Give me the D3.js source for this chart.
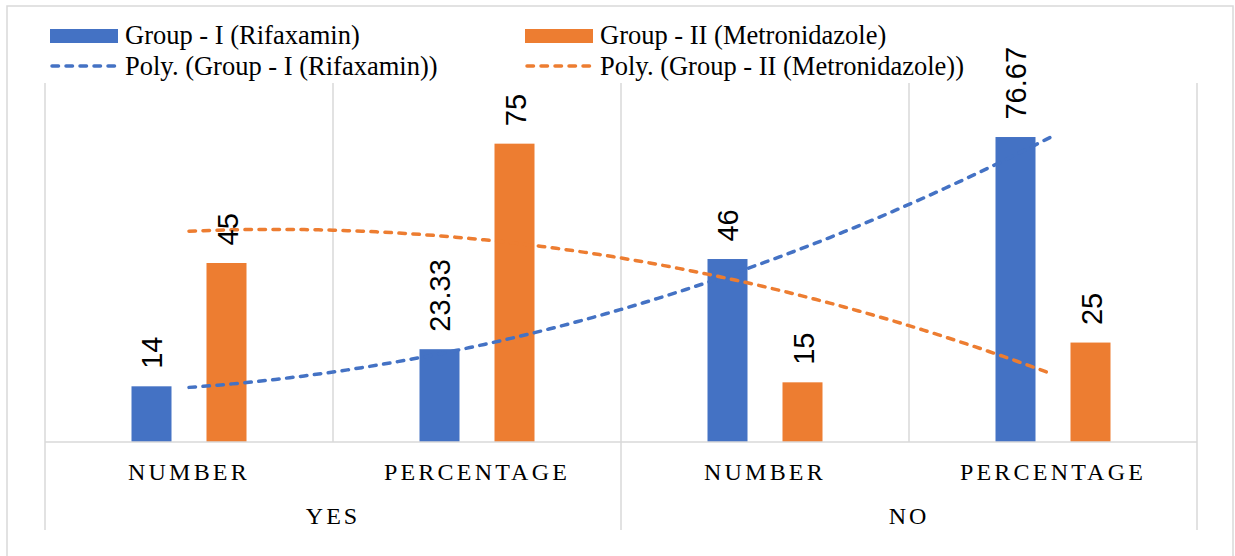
<!DOCTYPE html>
<html>
<head>
<meta charset="utf-8">
<script src="https://cdn.jsdelivr.net/npm/d3@7"></script>
<style>
  html, body { margin: 0; padding: 0; background: #ffffff; }
  svg { display: block; }
</style>
</head>
<body>
<svg id="chart" width="1235" height="556"></svg>
<script>
// Sub-categories along the axis and the outer grouping
const categories = ["NUMBER", "PERCENTAGE", "NUMBER", "PERCENTAGE"];
const groupLabels = ["YES", "NO"];

// Series values
const seriesNames = ["Group - I (Rifaxamin)", "Group - II (Metronidazole)"];
const rifaxamin = [14, 23.33, 46, 76.67];
const metronidazole = [45, 75, 15, 25];

const colors = ["#4472C4", "#ED7D31"];
const serifFont = "'Liberation Serif', 'Times New Roman', serif";
const labelFont = "'Liberation Sans Narrow', 'Arial Narrow', 'Liberation Sans', sans-serif";

const svg = d3.select("#chart");
const plot = { left: 45, right: 1197, top: 84, bottom: 442 };
const gridColor = "#d9d9d9";

// Chart frame
svg.append("rect")
  .attr("x", 7).attr("y", 6)
  .attr("width", 1226).attr("height", 580)
  .attr("fill", "none").attr("stroke", gridColor).attr("stroke-width", 1.5);

const idx = d3.range(categories.length);
const x = d3.scaleBand().domain(idx).range([plot.left, plot.right]).padding(0);
const bw = x.bandwidth();
const xSub = d3.scaleBand().domain([0, 1]).range([0, bw])
  .paddingInner(0.4667).paddingOuter(1.1533);
const y = d3.scaleLinear().domain([0, 90]).range([plot.bottom, plot.top]);

// Vertical gridlines at category boundaries
const bounds = idx.map(i => x(i)).concat([plot.right]);
svg.append("g").selectAll("line").data(bounds).join("line")
  .attr("x1", d => d).attr("x2", d => d)
  .attr("y1", plot.top - 1).attr("y2", plot.bottom)
  .attr("stroke", gridColor).attr("stroke-width", 1.5);

// Group separators extending below the axis
const groupBounds = [plot.left, (plot.left + plot.right) / 2, plot.right];
svg.append("g").selectAll("line").data(groupBounds).join("line")
  .attr("x1", d => d).attr("x2", d => d)
  .attr("y1", plot.bottom).attr("y2", 530)
  .attr("stroke", gridColor).attr("stroke-width", 1.5);

// Bars
const series = [rifaxamin, metronidazole];
series.forEach((vals, s) => {
  svg.append("g").selectAll("rect").data(vals).join("rect")
    .attr("x", (d, i) => x(i) + xSub(s))
    .attr("y", d => y(d))
    .attr("width", xSub.bandwidth())
    .attr("height", d => y(0) - y(d))
    .attr("fill", colors[s]);
});

// Axis baseline
svg.append("line")
  .attr("x1", plot.left).attr("x2", plot.right)
  .attr("y1", plot.bottom).attr("y2", plot.bottom)
  .attr("stroke", gridColor).attr("stroke-width", 1.5);

// Second-order polynomial trendlines (least squares)
function polyFit2(vals) {
  const xs = vals.map((_, i) => i + 1);
  const S = k => d3.sum(xs, v => Math.pow(v, k));
  const T = k => d3.sum(xs, (v, i) => Math.pow(v, k) * vals[i]);
  const A = [[S(0), S(1), S(2)], [S(1), S(2), S(3)], [S(2), S(3), S(4)]];
  const b = [T(0), T(1), T(2)];
  // Gaussian elimination
  for (let c = 0; c < 3; c++) {
    for (let r = c + 1; r < 3; r++) {
      const f = A[r][c] / A[c][c];
      for (let k = c; k < 3; k++) A[r][k] -= f * A[c][k];
      b[r] -= f * b[c];
    }
  }
  const coef = [0, 0, 0];
  for (let r = 2; r >= 0; r--) {
    let s = b[r];
    for (let k = r + 1; k < 3; k++) s -= A[r][k] * coef[k];
    coef[r] = s / A[r][r];
  }
  return t => coef[0] + coef[1] * t + coef[2] * t * t;
}

const xLin = d3.scaleLinear().domain([1, categories.length])
  .range([x(0) + bw / 2, x(categories.length - 1) + bw / 2]);
const line = d3.line().x(d => xLin(d[0])).y(d => y(d[1])).curve(d3.curveLinear);
const samples = d3.range(0, 121).map(k => 1 + k * (categories.length - 1) / 120);

series.forEach((vals, s) => {
  const f = polyFit2(vals);
  svg.append("path")
    .datum(samples.map(t => [t, f(t)]))
    .attr("d", line)
    .attr("fill", "none")
    .attr("stroke", colors[s])
    .attr("stroke-width", 3.5)
    .attr("stroke-linecap", "round")
    .attr("stroke-dasharray", "6.5,7.5");
});

// Rotated value labels above bars
series.forEach((vals, s) => {
  svg.append("g").selectAll("text").data(vals).join("text")
    .attr("transform", (d, i) => {
      const cx = x(i) + xSub(s) + xSub.bandwidth() / 2 + 11;
      const cy = y(d) - 17.5;
      return `translate(${cx},${cy}) rotate(-90)`;
    })
    .attr("font-family", labelFont)
    .attr("font-size", 29)
    .attr("fill", "#000")
    .text(d => String(d));
});

// Category labels
svg.append("g").selectAll("text").data(categories).join("text")
  .attr("x", (d, i) => x(i) + bw / 2)
  .attr("y", 480)
  .attr("text-anchor", "middle")
  .attr("font-family", serifFont)
  .attr("font-size", 24)
  .attr("letter-spacing", 3.2)
  .attr("fill", "#000")
  .text(d => d);

// Group labels
svg.append("g").selectAll("text").data(groupLabels).join("text")
  .attr("x", (d, i) => (groupBounds[i] + groupBounds[i + 1]) / 2)
  .attr("y", 524)
  .attr("text-anchor", "middle")
  .attr("font-family", serifFont)
  .attr("font-size", 24)
  .attr("letter-spacing", 3)
  .attr("fill", "#000")
  .text(d => d);

// Legend
const legendX = [50, 525];
const legend = svg.append("g");
seriesNames.forEach((name, s) => {
  legend.append("rect")
    .attr("x", legendX[s]).attr("y", 29)
    .attr("width", 68).attr("height", 14)
    .attr("fill", colors[s]);
  legend.append("text")
    .attr("x", legendX[s] + 75).attr("y", 44)
    .attr("font-family", serifFont).attr("font-size", 26.5)
    .attr("fill", "#000")
    .text(name);
  legend.append("line")
    .attr("x1", legendX[s] + 2).attr("x2", legendX[s] + 67)
    .attr("y1", 66).attr("y2", 66)
    .attr("stroke", colors[s]).attr("stroke-width", 3.5)
    .attr("stroke-linecap", "round")
    .attr("stroke-dasharray", "6.5,7.5");
  legend.append("text")
    .attr("x", legendX[s] + 75).attr("y", 75)
    .attr("font-family", serifFont).attr("font-size", 26.5)
    .attr("fill", "#000")
    .text(`Poly. (${name})`);
});
</script>
</body>
</html>
